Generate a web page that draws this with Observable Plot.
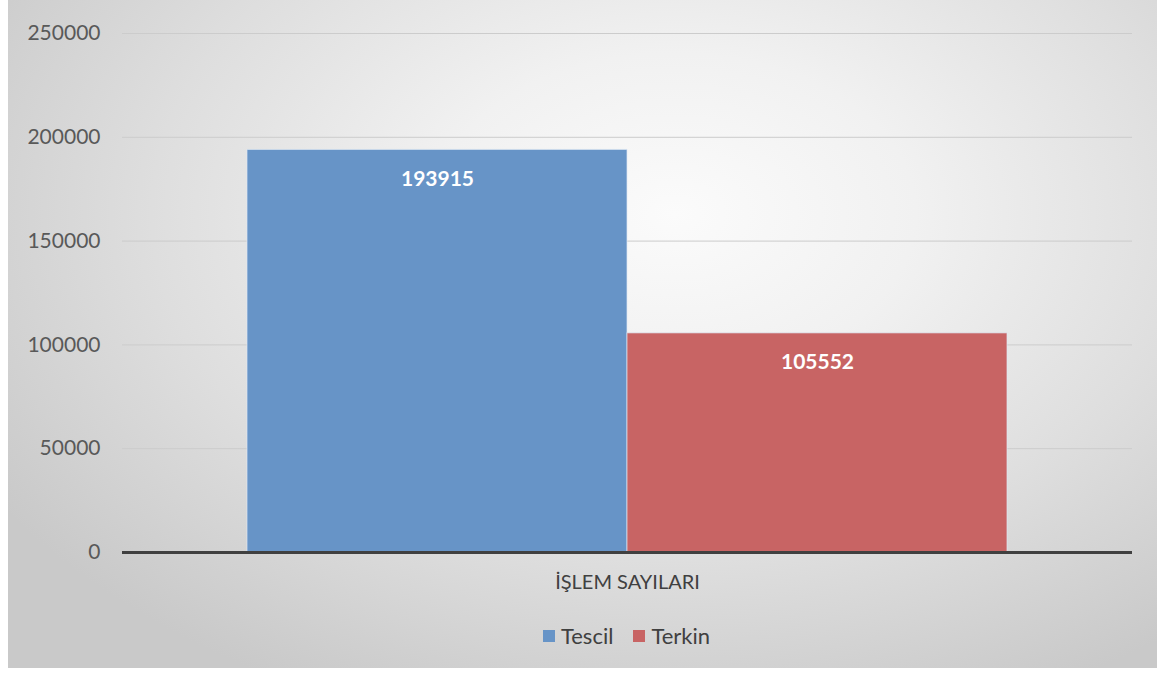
<!DOCTYPE html>
<html>
<head>
<meta charset="utf-8">
<script src="https://cdn.jsdelivr.net/npm/d3@7"></script>
<script src="https://cdn.jsdelivr.net/npm/@observablehq/plot@0.6"></script>
<style>
  html, body { margin: 0; padding: 0; background: #ffffff; }
  #wrap { position: relative; width: 1157px; height: 677px; overflow: hidden; font-family: Lato, "Open Sans", sans-serif; }
  #bg { position: absolute; left: 8px; top: 0px; width: 1149px; height: 668px;
        background: radial-gradient(ellipse 70% 80% at 58% 32%, #fbfbfb 0%, #f1f1f1 30%, #dedede 65%, #c9c9c9 100%); }
  #chart { position: absolute; left: 0; top: 0; }
  #legend { position: absolute; left: 0; width: 1157px; top: 622px; display: flex; justify-content: center; gap: 20px;
            font-size: 22px; color: #404040; padding-left: 96px; box-sizing: border-box; }
  #legend .item { display: flex; align-items: center; gap: 6px; }
  #legend .sw { width: 12px; height: 12px; display: inline-block; }
</style>
</head>
<body>
<div id="wrap">
  <div id="bg"></div>
  <div id="chart"></div>
  <div id="legend"></div>
</div>
<script>
const category = "İŞLEM SAYILARI";
const series = ["Tescil", "Terkin"];
const values = [193915, 105552];
const colors = ["#6794c7", "#c86464"];
const yTicks = [0, 50000, 100000, 150000, 200000, 250000];

const data = series.map((s, i) => ({category, series: s, value: values[i]}));

const chart = Plot.plot({
  width: 1157,
  height: 602,
  marginLeft: 122,
  marginRight: 25,
  marginTop: 33,
  marginBottom: 50,
  style: {background: "transparent", fontFamily: "Lato, 'Open Sans', sans-serif", color: "#595959"},
  fx: {domain: [category], padding: 0, label: null, axis: "bottom", tickSize: 0, tickPadding: 22},
  x: {domain: series, paddingInner: 0, paddingOuter: 0.327, axis: null},
  y: {domain: [0, 250000], ticks: yTicks, label: null},
  color: {domain: series, range: colors},
  marks: [
    Plot.gridY(yTicks, {stroke: "#cccccc", strokeOpacity: 1, strokeWidth: 1}),
    Plot.axisY(yTicks, {tickSize: 0, tickPadding: 22, tickFormat: d3.format("d"), fontSize: 21, fill: "#595959", label: null}),
    Plot.barY(data, {fx: "category", x: "series", y: "value", fill: "series", fillOpacity: 1, stroke: "#dfe8f3", strokeWidth: 1, strokeOpacity: 0.7, inset: 0}),
    Plot.text(data, {fx: "category", x: "series", y: "value", text: d => String(d.value), dy: 29, fill: "white", fontWeight: "bold", fontSize: 21}),
    Plot.ruleY([0], {stroke: "#404040", strokeWidth: 3})
  ]
});
chart.querySelectorAll("g[aria-label='fx-axis tick label'] text, g[aria-label='fx-axis tick label']").forEach(el => {
  el.setAttribute("font-size", "20");
  el.setAttribute("fill", "#404040");
});
document.getElementById("chart").appendChild(chart);

const legend = document.getElementById("legend");
series.forEach((s, i) => {
  const item = document.createElement("div");
  item.className = "item";
  const sw = document.createElement("span");
  sw.className = "sw";
  sw.style.background = colors[i];
  const t = document.createElement("span");
  t.textContent = s;
  item.appendChild(sw);
  item.appendChild(t);
  legend.appendChild(item);
});
</script>
</body>
</html>
